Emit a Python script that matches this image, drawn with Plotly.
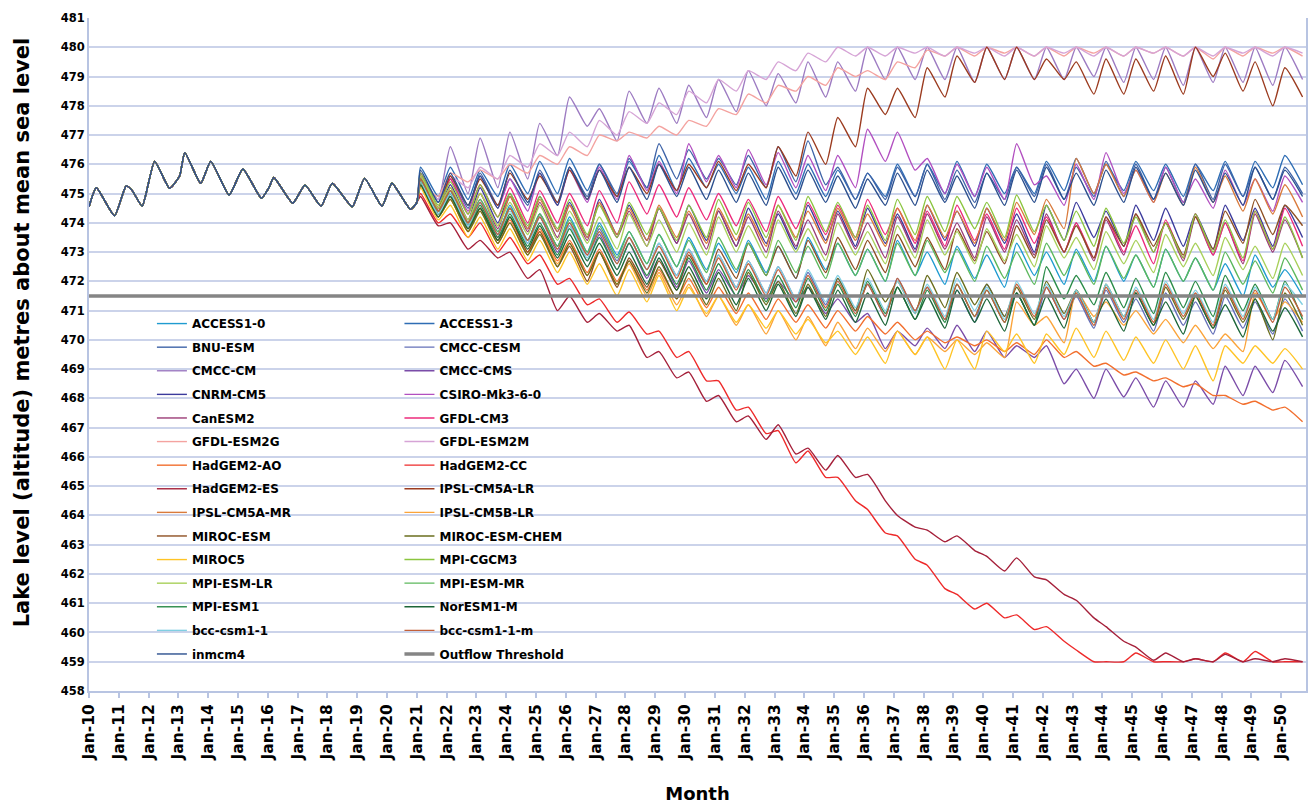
import plotly.graph_objects as go

# ---------------- data ----------------
hist_dates = ["2010-01-01", "2010-04-01", "2010-11-10", "2011-04-01", "2011-06-15", "2011-10-15",
              "2012-03-15", "2012-09-15", "2013-01-15", "2013-03-20", "2013-10-01", "2014-02-01",
              "2014-09-15", "2015-03-01", "2015-10-15", "2016-01-15", "2016-03-15", "2016-11-01",
              "2017-04-01", "2017-10-15", "2018-03-01", "2018-11-01", "2019-04-01", "2019-11-01",
              "2020-03-01", "2020-10-15", "2021-01-01"]
hist_levels = [474.55, 475.2, 474.24, 475.26, 475.1, 474.57,
               476.1, 475.18, 475.6, 476.4, 475.35, 476.1,
               474.95, 475.84, 474.84, 475.2, 475.55, 474.67,
               475.29, 474.57, 475.35, 474.55, 475.52, 474.57,
               475.35, 474.46, 474.7]

proj_years = list(range(2021, 2051))
peak_month_day = "02-15"
trough_month_day = "09-20"

ACCESS1_0_peak = [475.5, 475.0, 474.7, 474.6, 474.3, 474.2, 474.0, 473.7, 473.6, 473.5, 473.3, 473.4, 473.2, 473.5, 473.3, 473.1, 473.4, 473.0, 473.2, 472.9, 473.3, 473.0, 473.1, 473.2, 472.9, 473.1, 472.8, 472.6, 472.9, 472.4]
ACCESS1_0_trough = [474.3, 473.9, 473.6, 473.4, 473.2, 473.0, 472.9, 472.6, 472.5, 472.4, 472.3, 472.3, 472.1, 472.4, 472.2, 472.0, 472.2, 471.9, 472.1, 471.8, 472.2, 471.9, 472.0, 472.0, 471.8, 472.0, 471.7, 471.5, 471.8, 471.5]
ACCESS1_3_peak = [475.9, 475.9, 475.8, 476.0, 476.1, 476.2, 476.0, 476.1, 476.3, 476.2, 476.0, 475.9, 476.1, 476.0, 475.8, 475.7, 476.0, 476.0, 476.1, 476.0, 475.9, 476.1, 476.2, 476.0, 476.1, 476.0, 476.0, 476.1, 476.1, 476.3]
ACCESS1_3_trough = [474.9, 474.8, 474.9, 475.0, 475.0, 475.1, 474.9, 475.2, 475.1, 475.2, 475.0, 474.8, 475.0, 474.9, 474.8, 474.9, 474.9, 475.0, 474.9, 475.0, 475.0, 475.1, 475.0, 475.1, 475.1, 474.9, 475.1, 474.9, 475.2, 475.3]
BNU_ESM_peak = [475.7, 475.6, 475.7, 475.5, 475.8, 475.9, 476.0, 476.2, 476.7, 476.5, 476.2, 476.3, 476.6, 476.8, 475.9, 475.7, 475.9, 476.0, 475.8, 475.7, 475.9, 476.0, 475.9, 476.1, 476.0, 475.9, 476.0, 476.0, 475.9, 475.9]
BNU_ESM_trough = [474.7, 474.5, 474.6, 474.6, 474.7, 474.9, 475.0, 475.2, 475.5, 475.5, 475.3, 475.2, 475.4, 475.3, 474.8, 474.8, 474.9, 474.8, 474.7, 474.8, 474.9, 474.8, 474.9, 474.9, 474.8, 474.7, 474.8, 474.9, 474.8, 475.0]
CMCC_CESM_peak = [475.5, 475.1, 474.8, 474.5, 474.3, 474.0, 473.8, 473.5, 473.3, 473.1, 472.9, 472.7, 472.5, 472.3, 472.1, 471.9, 472.1, 471.8, 471.7, 471.9, 471.6, 471.8, 471.5, 471.7, 471.4, 471.6, 471.3, 471.5, 471.3, 471.4]
CMCC_CESM_trough = [474.4, 474.0, 473.7, 473.4, 473.2, 472.9, 472.7, 472.4, 472.2, 472.0, 471.8, 471.6, 471.4, 471.2, 471.0, 470.8, 471.0, 470.7, 470.6, 470.8, 470.5, 470.7, 470.4, 470.6, 470.3, 470.5, 470.2, 470.4, 470.2, 470.3]
CMCC_CM_peak = [475.6, 476.6, 476.9, 477.1, 477.4, 478.3, 477.9, 478.5, 478.6, 478.7, 478.9, 479.2, 479.1, 479.5, 479.5, 480.0, 480.0, 480.0, 480.0, 480.0, 480.0, 480.0, 480.0, 480.0, 480.0, 480.0, 480.0, 480.0, 480.0, 480.0]
CMCC_CM_trough = [474.8, 475.0, 475.2, 475.5, 476.3, 477.3, 476.8, 477.4, 477.4, 477.6, 477.8, 478.0, 478.1, 478.3, 478.5, 478.9, 478.9, 478.9, 478.8, 478.9, 478.9, 478.9, 479.0, 478.8, 478.9, 478.7, 478.8, 478.8, 478.7, 478.9]
CMCC_CMS_peak = [475.4, 475.0, 474.7, 474.5, 474.2, 473.9, 473.6, 473.3, 473.0, 472.7, 472.4, 472.2, 472.0, 471.8, 471.4, 470.9, 470.3, 470.4, 470.5, 470.3, 469.8, 469.8, 469.0, 469.0, 468.7, 468.6, 468.6, 469.1, 469.1, 469.3]
CMCC_CMS_trough = [474.3, 473.9, 473.5, 473.3, 473.0, 472.7, 472.4, 472.1, 471.8, 471.6, 471.5, 471.4, 471.3, 470.9, 470.6, 469.7, 469.8, 469.7, 469.6, 469.4, 469.4, 468.5, 468.0, 468.05, 467.7, 467.7, 467.8, 468.1, 468.2, 468.4]
CNRM_CM5_peak = [475.6, 475.3, 475.2, 475.0, 474.9, 474.7, 474.8, 474.6, 474.5, 474.6, 474.4, 474.5, 474.3, 474.6, 474.4, 474.5, 474.3, 474.6, 474.4, 474.5, 474.3, 474.6, 474.7, 474.4, 474.6, 474.5, 474.3, 474.6, 474.5, 474.6]
CNRM_CM5_trough = [474.4, 474.1, 474.0, 473.8, 473.7, 473.5, 473.6, 473.4, 473.3, 473.4, 473.2, 473.3, 473.1, 473.4, 473.2, 473.3, 473.1, 473.4, 473.2, 473.3, 473.0, 473.4, 473.5, 473.2, 473.4, 473.2, 473.1, 473.4, 473.2, 473.5]
CSIRO_Mk3_6_0_peak = [475.6, 475.5, 475.6, 475.5, 475.7, 475.8, 475.9, 476.3, 476.1, 476.7, 476.3, 476.5, 476.4, 476.3, 476.3, 477.2, 477.1, 476.2, 476.0, 475.9, 476.7, 475.6, 476.0, 476.4, 475.8, 475.9, 475.5, 475.8, 475.5, 475.6]
CSIRO_Mk3_6_0_trough = [474.5, 474.4, 474.5, 474.4, 474.6, 474.7, 474.8, 475.1, 475.0, 475.4, 475.2, 475.3, 475.2, 475.1, 475.2, 476.1, 475.8, 475.0, 474.9, 474.8, 475.3, 474.6, 474.8, 475.0, 474.7, 474.7, 474.5, 474.6, 474.4, 474.7]
CanESM2_peak = [475.5, 475.2, 475.0, 474.9, 474.7, 474.6, 474.7, 474.4, 474.5, 474.3, 474.4, 474.2, 474.4, 474.1, 474.3, 474.0, 474.2, 474.3, 474.0, 474.2, 474.1, 474.3, 474.0, 474.1, 474.3, 474.0, 474.2, 474.0, 474.3, 474.1]
CanESM2_trough = [474.4, 474.0, 473.8, 473.7, 473.5, 473.4, 473.5, 473.2, 473.3, 473.1, 473.2, 473.0, 473.2, 472.9, 473.1, 472.8, 473.0, 473.1, 472.8, 473.0, 472.9, 473.0, 472.7, 472.9, 473.0, 472.7, 472.9, 472.6, 473.0, 472.8]
GFDL_CM3_peak = [475.7, 475.5, 475.3, 475.2, 475.1, 475.0, 475.1, 475.4, 475.3, 475.2, 475.0, 474.8, 474.9, 474.7, 474.6, 474.8, 474.5, 474.4, 474.6, 474.3, 474.5, 474.2, 474.0, 474.2, 473.9, 474.1, 474.3, 474.0, 474.4, 474.5]
GFDL_CM3_trough = [474.5, 474.3, 474.2, 474.0, 474.0, 473.9, 474.0, 474.3, 474.2, 474.1, 473.9, 473.7, 473.8, 473.6, 473.5, 473.6, 473.3, 473.2, 473.4, 473.1, 473.3, 473.0, 472.8, 473.0, 472.6, 472.8, 472.9, 472.7, 473.1, 473.2]
GFDL_ESM2G_peak = [475.3, 475.7, 475.8, 476.0, 476.3, 476.6, 477.0, 477.1, 477.3, 477.5, 477.9, 478.4, 478.7, 479.0, 479.3, 479.2, 479.5, 479.9, 480.0, 480.0, 480.0, 480.0, 480.0, 480.0, 480.0, 480.0, 480.0, 480.0, 480.0, 480.0]
GFDL_ESM2G_trough = [474.9, 475.4, 475.5, 475.7, 476.0, 476.3, 476.8, 476.9, 477.0, 477.3, 477.7, 478.1, 478.5, 478.7, 479.0, 478.9, 479.3, 479.7, 479.7, 479.8, 479.7, 479.7, 479.8, 479.7, 479.8, 479.7, 479.6, 479.7, 479.8, 479.7]
GFDL_ESM2M_peak = [475.2, 475.6, 475.9, 476.3, 476.7, 477.1, 477.5, 477.8, 478.1, 478.5, 478.9, 479.2, 479.5, 479.8, 480.0, 480.0, 480.0, 480.0, 480.0, 480.0, 480.0, 480.0, 480.0, 480.0, 480.0, 480.0, 480.0, 480.0, 480.0, 480.0]
GFDL_ESM2M_trough = [474.8, 475.2, 475.5, 475.9, 476.3, 476.6, 477.0, 477.4, 477.7, 478.1, 478.5, 478.9, 479.2, 479.5, 479.7, 479.7, 479.8, 479.7, 479.8, 479.7, 479.7, 479.8, 479.7, 479.7, 479.8, 479.7, 479.7, 479.8, 479.7, 479.8]
HadGEM2_AO_peak = [475.3, 474.8, 474.5, 474.1, 473.8, 473.4, 473.1, 472.7, 472.4, 472.1, 471.8, 471.6, 471.4, 471.2, 471.0, 470.8, 470.6, 470.3, 470.1, 470.0, 469.9, 470.0, 469.6, 469.2, 468.9, 468.7, 468.5, 468.1, 467.9, 467.7]
HadGEM2_AO_trough = [474.2, 473.7, 473.4, 473.0, 472.7, 472.3, 472.0, 471.7, 471.4, 471.1, 470.9, 470.7, 470.6, 470.4, 470.3, 470.2, 470.0, 469.9, 469.8, 469.6, 469.5, 469.4, 469.1, 468.8, 468.6, 468.4, 468.1, 467.8, 467.6, 467.2]
HadGEM2_CC_peak = [475.0, 474.3, 474.0, 473.5, 472.9, 472.1, 471.4, 470.95, 470.3, 469.6, 468.6, 467.7, 466.9, 466.2, 465.3, 464.2, 463.3, 462.3, 461.3, 461.0, 460.6, 460.2, 459.4, 459.0, 459.3, 459.0, 459.1, 459.3, 459.35, 459.0]
HadGEM2_CC_trough = [474.0, 473.5, 473.0, 472.6, 471.9, 471.2, 470.6, 470.2, 469.4, 468.6, 467.6, 466.8, 465.8, 465.3, 464.5, 463.4, 462.5, 461.5, 460.8, 460.5, 460.1, 459.7, 459.0, 459.0, 459.0, 459.0, 459.0, 459.0, 459.0, 459.0]
HadGEM2_ES_peak = [474.9, 474.0, 473.4, 473.0, 472.4, 471.5, 470.9, 470.5, 469.6, 468.9, 468.1, 467.4, 467.1, 466.3, 466.05, 465.4, 464.0, 463.5, 463.3, 462.6, 462.55, 461.8, 461.1, 460.2, 459.5, 459.3, 459.1, 459.25, 459.1, 459.1]
HadGEM2_ES_trough = [473.9, 473.1, 472.8, 472.1, 471.0, 470.6, 470.3, 469.4, 468.7, 467.9, 467.2, 466.6, 466.1, 465.55, 465.3, 464.5, 463.6, 463.1, 462.8, 462.1, 461.9, 461.3, 460.5, 459.7, 459.05, 459.0, 459.0, 459.0, 459.0, 459.0]
IPSL_CM5A_LR_peak = [475.5, 475.6, 475.5, 475.7, 475.6, 475.8, 475.8, 475.9, 476.0, 476.0, 476.1, 476.0, 476.6, 477.1, 477.6, 478.6, 478.6, 479.3, 479.7, 480.0, 480.0, 479.6, 479.5, 479.6, 479.6, 479.7, 480.0, 479.8, 479.5, 479.3]
IPSL_CM5A_LR_trough = [474.5, 474.6, 474.6, 474.8, 474.7, 474.8, 474.9, 475.0, 475.1, 475.2, 475.1, 475.2, 475.6, 476.0, 476.6, 477.7, 477.6, 478.3, 478.8, 478.9, 478.9, 478.9, 478.4, 478.4, 478.5, 478.4, 479.0, 478.5, 478.0, 478.3]
IPSL_CM5A_MR_peak = [475.6, 475.2, 475.0, 474.9, 474.8, 474.6, 474.7, 474.5, 474.6, 474.4, 474.5, 474.3, 474.6, 474.4, 474.5, 474.3, 474.5, 474.6, 474.4, 474.5, 474.7, 474.8, 476.2, 476.0, 475.8, 475.7, 475.9, 475.6, 475.5, 475.3]
IPSL_CM5A_MR_trough = [474.5, 474.1, 473.9, 473.8, 473.7, 473.5, 473.6, 473.4, 473.5, 473.3, 473.4, 473.2, 473.5, 473.3, 473.4, 473.2, 473.4, 473.5, 473.3, 473.4, 473.6, 473.8, 475.0, 474.9, 474.7, 474.6, 474.7, 474.4, 474.3, 474.2]
IPSL_CM5B_LR_peak = [475.3, 474.8, 474.4, 474.0, 473.7, 473.3, 473.0, 472.6, 472.3, 471.9, 471.5, 471.2, 471.0, 470.8, 470.6, 470.4, 470.3, 470.1, 470.0, 469.9, 471.3, 470.8, 471.7, 471.3, 471.0, 470.7, 470.5, 470.2, 471.6, 471.3]
IPSL_CM5B_LR_trough = [474.2, 473.7, 473.3, 472.9, 472.6, 472.2, 471.9, 471.5, 471.2, 470.8, 470.5, 470.2, 470.0, 469.8, 469.7, 469.6, 469.5, 469.6, 469.5, 469.4, 470.5, 469.9, 470.8, 470.5, 470.2, 469.9, 469.7, 469.6, 470.7, 470.6]
MIROC_ESM_peak = [475.4, 474.9, 474.5, 474.2, 473.7, 473.2, 473.0, 472.8, 472.7, 472.9, 473.1, 473.3, 473.2, 473.4, 473.5, 473.4, 473.6, 473.5, 473.8, 473.7, 473.9, 474.1, 473.9, 474.2, 474.3, 474.0, 474.2, 474.4, 474.8, 474.6]
MIROC_ESM_trough = [474.3, 473.8, 473.4, 473.0, 472.5, 472.0, 471.8, 471.8, 471.7, 471.9, 472.1, 472.2, 472.1, 472.3, 472.4, 472.3, 472.5, 472.4, 472.7, 472.6, 472.8, 473.0, 472.8, 473.2, 473.2, 472.9, 473.1, 473.3, 473.6, 473.9]
MIROC_ESM_CHEM_peak = [475.3, 474.8, 474.4, 474.0, 473.6, 473.3, 473.0, 472.7, 472.5, 472.3, 472.1, 472.3, 472.0, 471.9, 472.1, 472.4, 472.0, 472.2, 472.3, 471.9, 471.8, 472.0, 471.7, 471.9, 471.6, 471.8, 471.5, 471.7, 471.4, 471.6]
MIROC_ESM_CHEM_trough = [474.2, 473.7, 473.3, 472.9, 472.5, 472.2, 471.9, 471.6, 471.4, 471.2, 471.0, 471.2, 470.9, 470.8, 471.0, 471.3, 470.9, 471.1, 471.2, 470.8, 470.7, 470.9, 470.6, 470.8, 470.5, 470.7, 470.4, 470.6, 470.0, 470.5]
MIROC5_peak = [475.2, 474.6, 474.2, 473.8, 473.4, 473.0, 472.6, 472.4, 472.2, 471.8, 471.5, 471.2, 471.0, 470.7, 470.3, 470.1, 470.3, 470.1, 470.0, 470.3, 470.2, 470.2, 470.4, 470.3, 470.1, 470.0, 469.8, 469.8, 469.8, 469.7]
MIROC5_trough = [474.1, 473.5, 473.1, 472.7, 472.3, 471.9, 471.5, 471.3, 471.0, 470.9, 470.6, 470.4, 470.2, 469.9, 469.5, 469.2, 469.5, 469.0, 469.0, 469.6, 469.2, 469.5, 469.4, 469.3, 469.2, 469.0, 468.6, 469.2, 469.2, 469.0]
MPI_CGCM3_peak = [475.7, 475.4, 475.3, 475.0, 474.9, 474.8, 474.6, 474.7, 474.5, 474.6, 474.8, 474.7, 474.6, 474.9, 474.7, 474.6, 474.8, 474.9, 474.9, 474.7, 474.95, 474.6, 474.4, 474.5, 474.2, 474.0, 474.3, 474.1, 474.4, 474.2]
MPI_CGCM3_trough = [474.6, 474.3, 474.2, 473.9, 473.8, 473.6, 473.5, 473.6, 473.4, 473.5, 473.6, 473.5, 473.4, 473.7, 473.5, 473.4, 473.6, 473.7, 473.8, 473.5, 473.7, 473.4, 473.2, 473.3, 473.0, 472.8, 473.0, 472.8, 473.1, 472.8]
MPI_ESM_LR_peak = [475.6, 475.2, 475.0, 474.7, 474.6, 474.4, 474.2, 474.3, 474.1, 474.0, 474.2, 473.9, 474.1, 473.8, 474.0, 473.7, 473.9, 474.1, 473.7, 473.8, 473.6, 473.9, 473.5, 473.7, 473.4, 473.6, 473.3, 473.5, 473.2, 473.3]
MPI_ESM_LR_trough = [474.5, 474.1, 473.9, 473.6, 473.4, 473.3, 473.1, 473.2, 473.0, 472.9, 473.0, 472.8, 473.0, 472.7, 472.9, 472.6, 472.8, 472.9, 472.6, 472.7, 472.5, 472.8, 472.4, 472.6, 472.3, 472.5, 472.2, 472.4, 472.1, 472.2]
MPI_ESM_MR_peak = [475.5, 475.1, 474.8, 474.5, 474.3, 474.1, 473.9, 473.7, 473.6, 473.4, 473.5, 473.3, 473.4, 473.2, 473.3, 473.1, 473.3, 473.4, 473.1, 473.2, 473.0, 473.3, 473.0, 473.2, 472.9, 473.1, 472.8, 473.0, 472.7, 472.8]
MPI_ESM_MR_trough = [474.4, 474.0, 473.7, 473.4, 473.2, 473.0, 472.8, 472.6, 472.5, 472.3, 472.4, 472.2, 472.3, 472.1, 472.2, 472.0, 472.2, 472.3, 472.0, 472.1, 471.9, 472.2, 471.9, 472.1, 471.8, 472.0, 471.7, 471.9, 471.6, 471.7]
MPI_ESM1_peak = [475.4, 475.0, 474.6, 474.3, 474.0, 473.8, 473.5, 473.3, 473.0, 472.8, 472.6, 472.4, 472.2, 472.1, 471.9, 472.0, 471.8, 471.7, 471.9, 471.7, 471.6, 472.5, 472.2, 472.3, 472.1, 472.3, 472.0, 472.2, 471.9, 472.0]
MPI_ESM1_trough = [474.3, 473.9, 473.5, 473.2, 472.9, 472.7, 472.4, 472.2, 471.9, 471.7, 471.5, 471.3, 471.1, 471.0, 470.8, 470.9, 470.7, 470.6, 470.8, 470.6, 470.5, 471.4, 471.2, 471.1, 470.9, 471.1, 470.8, 471.0, 470.7, 470.7]
NorESM1_M_peak = [475.3, 474.9, 474.5, 474.2, 473.9, 473.6, 473.3, 473.0, 472.8, 472.5, 472.3, 472.1, 471.9, 471.8, 471.7, 471.6, 471.8, 471.5, 471.7, 471.4, 471.6, 471.5, 471.7, 471.4, 471.6, 471.3, 471.5, 471.2, 471.4, 471.1]
NorESM1_M_trough = [474.2, 473.8, 473.4, 473.1, 472.8, 472.5, 472.2, 471.9, 471.7, 471.4, 471.2, 471.0, 470.8, 470.7, 470.6, 470.5, 470.7, 470.4, 470.6, 470.3, 470.5, 470.4, 470.6, 470.3, 470.5, 470.2, 470.4, 470.1, 470.3, 470.1]
bcc_csm1_1_peak = [475.4, 475.0, 474.7, 474.4, 474.2, 473.9, 473.7, 473.5, 473.3, 473.1, 472.9, 472.7, 472.5, 472.4, 472.2, 472.1, 472.0, 471.9, 472.1, 471.8, 472.0, 471.9, 471.7, 471.9, 471.8, 472.0, 471.7, 471.9, 471.8, 471.9]
bcc_csm1_1_trough = [474.3, 473.9, 473.6, 473.3, 473.1, 472.8, 472.6, 472.4, 472.2, 472.0, 471.8, 471.6, 471.4, 471.3, 471.1, 471.0, 470.9, 470.8, 471.0, 470.7, 470.9, 470.8, 470.6, 470.8, 470.7, 470.9, 470.6, 470.8, 470.7, 471.2]
bcc_csm1_1_m_peak = [475.5, 475.1, 474.7, 474.5, 474.2, 474.0, 473.7, 473.5, 473.2, 473.0, 472.8, 472.6, 472.4, 472.2, 472.0, 471.9, 472.1, 471.8, 471.9, 471.7, 471.9, 471.8, 471.6, 471.8, 471.7, 471.9, 471.6, 471.8, 471.7, 471.8]
bcc_csm1_1_m_trough = [474.4, 474.0, 473.6, 473.4, 473.1, 472.9, 472.6, 472.4, 472.1, 471.9, 471.7, 471.5, 471.3, 471.1, 470.9, 470.8, 471.0, 470.7, 470.8, 470.6, 470.8, 470.7, 470.5, 470.7, 470.6, 470.8, 470.5, 470.7, 470.6, 470.8]
inmcm4_peak = [475.8, 475.7, 475.6, 475.8, 475.7, 475.9, 475.8, 475.9, 476.0, 475.9, 475.8, 475.7, 475.9, 475.8, 475.6, 475.5, 475.7, 475.8, 475.6, 475.7, 475.8, 475.9, 475.7, 475.8, 475.9, 475.7, 475.8, 475.7, 475.9, 475.8]
inmcm4_trough = [474.7, 474.6, 474.5, 474.7, 474.6, 474.8, 474.7, 474.8, 474.9, 474.8, 474.7, 474.6, 474.8, 474.7, 474.5, 474.6, 474.6, 474.7, 474.5, 474.6, 474.7, 474.8, 474.6, 474.7, 474.8, 474.6, 474.7, 474.6, 474.8, 474.9]

threshold_dates = ["2010-01-01", "2050-11-01"]
threshold_levels = [471.5, 471.5]

model_names = ["ACCESS1-0", "ACCESS1-3", "BNU-ESM", "CMCC-CESM", "CMCC-CM", "CMCC-CMS",
               "CNRM-CM5", "CSIRO-Mk3-6-0", "CanESM2", "GFDL-CM3", "GFDL-ESM2G", "GFDL-ESM2M",
               "HadGEM2-AO", "HadGEM2-CC", "HadGEM2-ES", "IPSL-CM5A-LR", "IPSL-CM5A-MR", "IPSL-CM5B-LR",
               "MIROC-ESM", "MIROC-ESM-CHEM", "MIROC5", "MPI-CGCM3", "MPI-ESM-LR", "MPI-ESM-MR",
               "MPI-ESM1", "NorESM1-M", "bcc-csm1-1", "bcc-csm1-1-m", "inmcm4"]

# ---------------- styles ----------------
model_colors = ["#1F9BD0", "#2E6DB4", "#3F64A8", "#6470B8", "#9D7BC2", "#7B4CA8",
                "#3B3A9C", "#B24FC0", "#9B3C77", "#EC2B7B", "#F4A3A0", "#D6A4D6",
                "#F26F2E", "#EE2A2A", "#A5203A", "#9B3B1F", "#D97A3B", "#FBA43A",
                "#8E4F22", "#6A6E1E", "#FFC425", "#8BC53F", "#A8D05A", "#5CB85C",
                "#2A8B48", "#1C6638", "#80CFE2", "#C2603A", "#2B4F8E"]

table = [
    (ACCESS1_0_peak, ACCESS1_0_trough), (ACCESS1_3_peak, ACCESS1_3_trough),
    (BNU_ESM_peak, BNU_ESM_trough), (CMCC_CESM_peak, CMCC_CESM_trough),
    (CMCC_CM_peak, CMCC_CM_trough), (CMCC_CMS_peak, CMCC_CMS_trough),
    (CNRM_CM5_peak, CNRM_CM5_trough), (CSIRO_Mk3_6_0_peak, CSIRO_Mk3_6_0_trough),
    (CanESM2_peak, CanESM2_trough), (GFDL_CM3_peak, GFDL_CM3_trough),
    (GFDL_ESM2G_peak, GFDL_ESM2G_trough), (GFDL_ESM2M_peak, GFDL_ESM2M_trough),
    (HadGEM2_AO_peak, HadGEM2_AO_trough), (HadGEM2_CC_peak, HadGEM2_CC_trough),
    (HadGEM2_ES_peak, HadGEM2_ES_trough), (IPSL_CM5A_LR_peak, IPSL_CM5A_LR_trough),
    (IPSL_CM5A_MR_peak, IPSL_CM5A_MR_trough), (IPSL_CM5B_LR_peak, IPSL_CM5B_LR_trough),
    (MIROC_ESM_peak, MIROC_ESM_trough), (MIROC_ESM_CHEM_peak, MIROC_ESM_CHEM_trough),
    (MIROC5_peak, MIROC5_trough), (MPI_CGCM3_peak, MPI_CGCM3_trough),
    (MPI_ESM_LR_peak, MPI_ESM_LR_trough), (MPI_ESM_MR_peak, MPI_ESM_MR_trough),
    (MPI_ESM1_peak, MPI_ESM1_trough), (NorESM1_M_peak, NorESM1_M_trough),
    (bcc_csm1_1_peak, bcc_csm1_1_trough), (bcc_csm1_1_m_peak, bcc_csm1_1_m_trough),
    (inmcm4_peak, inmcm4_trough),
]

proj_dates = []
for yr in proj_years:
    proj_dates.append(f"{yr}-{peak_month_day}")
    proj_dates.append(f"{yr}-{trough_month_day}")

FONT = "'DejaVu Sans', Verdana, sans-serif"

fig = go.Figure()
for i, (name, color, (pk, tr)) in enumerate(zip(model_names, model_colors, table)):
    vals = []
    for p, t in zip(pk, tr):
        vals.append(p)
        vals.append(t)
    fig.add_trace(go.Scatter(
        x=hist_dates + proj_dates, y=hist_levels + vals, mode="lines", name=name,
        line=dict(color=color, width=1.4, shape="spline", smoothing=0.5),
        legend="legend" if i % 2 == 0 else "legend2",
        legendgroup=name,
    ))

fig.add_trace(go.Scatter(
    x=threshold_dates, y=threshold_levels, mode="lines", name="Outflow Threshold",
    line=dict(color="#858585", width=3.5), legend="legend2", legendgroup="thr",
))

legend_common = dict(
    xanchor="left", yanchor="top", bgcolor="rgba(0,0,0,0)", borderwidth=0,
    font=dict(family=FONT, size=12, color="black", weight="bold"),
    tracegroupgap=4.6, itemwidth=30,
)

fig.update_layout(
    width=1311, height=805,
    margin=dict(l=89, r=3, t=18, b=114),
    plot_bgcolor="white", paper_bgcolor="white",
    font=dict(family=FONT, color="black"),
    showlegend=True,
    legend=dict(x=0.0517, y=0.5675, **legend_common),
    legend2=dict(x=0.2551, y=0.5675, **legend_common),
    xaxis=dict(
        type="date", range=["2010-01-01", "2050-11-01"],
        tick0="2010-01-01", dtick="M12", tickformat="%b-%y", tickangle=-90,
        tickfont=dict(family=FONT, size=15.5, color="black", weight="bold"),
        ticks="outside", ticklen=5, tickcolor="#B8C4E2", tickwidth=1.5,
        showgrid=False, showline=True, linecolor="#B8C4E2", linewidth=2,
        zeroline=False,
        title=dict(text="Month", font=dict(family=FONT, size=18, color="black", weight="bold"), standoff=28),
    ),
    yaxis=dict(
        range=[458, 481], dtick=1, tick0=458,
        tickfont=dict(family=FONT, size=11.5, color="black", weight="bold"),
        showgrid=True, gridcolor="#CBD3EA", gridwidth=1.6,
        showline=True, linecolor="#B8C4E2", linewidth=2, mirror=True,
        ticks="", zeroline=False,
    ),
    annotations=[dict(
        text="Lake level (altitude) metres about mean sea level",
        xref="paper", yref="paper", x=-0.055, y=0.533, textangle=-90,
        showarrow=False, xanchor="center", yanchor="middle",
        font=dict(family=FONT, size=21, color="black", weight="bold"),
    )],
)

fig.write_html("out.html", config={"displayModeBar": False},
               post_script="document.body.style.margin='0px';document.body.style.overflow='hidden';")
